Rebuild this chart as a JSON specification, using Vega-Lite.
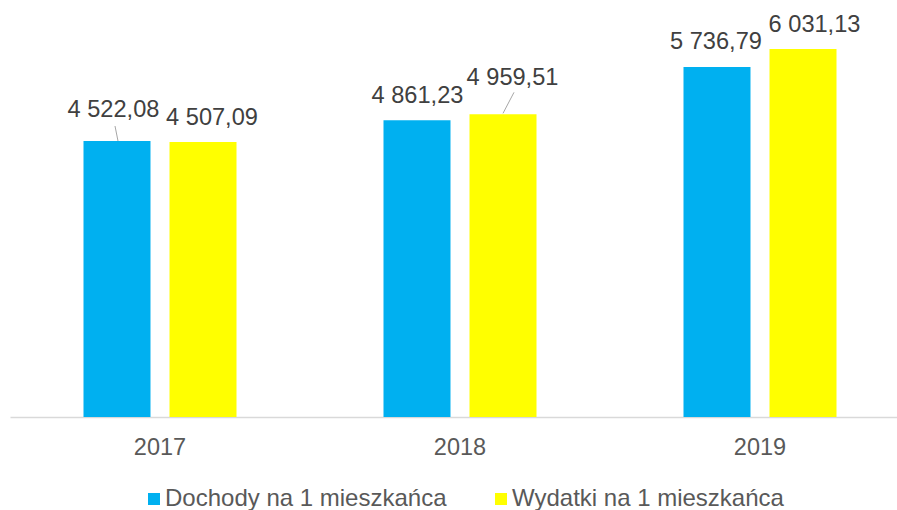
{
  "$schema": "https://vega.github.io/schema/vega-lite/v6.json",
  "width": 887,
  "height": 417,
  "autosize": {"type": "none"},
  "padding": {"left": 10, "top": 0, "right": 0, "bottom": 93},
  "background": "#ffffff",
  "config": {
    "view": {"stroke": null},
    "font": "Liberation Sans"
  },
  "data": {
    "values": [
      {"year": "2017", "series": "Dochody na 1 mieszkańca", "value": 4522.08, "label": "4 522,08"},
      {"year": "2017", "series": "Wydatki na 1 mieszkańca", "value": 4507.09, "label": "4 507,09"},
      {"year": "2018", "series": "Dochody na 1 mieszkańca", "value": 4861.23, "label": "4 861,23"},
      {"year": "2018", "series": "Wydatki na 1 mieszkańca", "value": 4959.51, "label": "4 959,51"},
      {"year": "2019", "series": "Dochody na 1 mieszkańca", "value": 5736.79, "label": "5 736,79"},
      {"year": "2019", "series": "Wydatki na 1 mieszkańca", "value": 6031.13, "label": "6 031,13"}
    ]
  },
  "encoding": {
    "x": {
      "field": "year",
      "type": "nominal",
      "title": null,
      "scale": {"range": [0, 900], "paddingInner": 0, "paddingOuter": 0},
      "axis": {
        "labelAngle": 0,
        "ticks": false,
        "grid": false,
        "domainColor": "#D9D9D9",
        "domainWidth": 1.3,
        "labelFontSize": 23.5,
        "labelColor": "#595959",
        "labelFont": "Liberation Sans",
        "labelBaseline": "alphabetic",
        "labelPadding": 37
      }
    },
    "y": {
      "field": "value",
      "type": "quantitative",
      "scale": {"domain": [0, 6833], "nice": false, "zero": true},
      "axis": null
    }
  },
  "layer": [
    {
      "mark": {"type": "bar"},
      "encoding": {
        "xOffset": {
          "field": "series",
          "type": "nominal",
          "scale": {"paddingInner": 0.221, "paddingOuter": 0.8545}
        },
        "color": {
          "field": "series",
          "type": "nominal",
          "scale": {
            "domain": ["Dochody na 1 mieszkańca", "Wydatki na 1 mieszkańca"],
            "range": ["#00B0F0", "#FFFF00"]
          },
          "legend": {
            "title": null,
            "orient": "none",
            "direction": "horizontal",
            "legendX": 132,
            "legendY": 487,
            "symbolType": "square",
            "symbolSize": 144,
            "symbolStrokeWidth": 0,
            "labelFontSize": 24,
            "labelColor": "#595959",
            "labelFont": "Liberation Sans",
            "labelOffset": -1,
            "columnPadding": 42,
            "padding": 0,
            "labelLimit": 400
          }
        }
      }
    },
    {
      "transform": [{"filter": "datum.value == 4522.08"}],
      "mark": {"type": "text", "align": "center", "baseline": "alphabetic", "dx": -3.5, "dy": -24, "fontSize": 23.6, "font": "Liberation Sans", "color": "#404040"},
      "encoding": {"xOffset": {"field": "series", "type": "nominal"}, "text": {"field": "label"}}
    },
    {
      "transform": [{"filter": "datum.value == 4507.09"}],
      "mark": {"type": "text", "align": "center", "baseline": "alphabetic", "dx": 9, "dy": -16.5, "fontSize": 23.6, "font": "Liberation Sans", "color": "#404040"},
      "encoding": {"xOffset": {"field": "series", "type": "nominal"}, "text": {"field": "label"}}
    },
    {
      "transform": [{"filter": "datum.value == 4861.23"}],
      "mark": {"type": "text", "align": "center", "baseline": "alphabetic", "dx": 0.5, "dy": -17, "fontSize": 23.6, "font": "Liberation Sans", "color": "#404040"},
      "encoding": {"xOffset": {"field": "series", "type": "nominal"}, "text": {"field": "label"}}
    },
    {
      "transform": [{"filter": "datum.value == 4959.51"}],
      "mark": {"type": "text", "align": "center", "baseline": "alphabetic", "dx": 9.5, "dy": -29, "fontSize": 23.6, "font": "Liberation Sans", "color": "#404040"},
      "encoding": {"xOffset": {"field": "series", "type": "nominal"}, "text": {"field": "label"}}
    },
    {
      "transform": [{"filter": "datum.value == 5736.79"}],
      "mark": {"type": "text", "align": "center", "baseline": "alphabetic", "dx": -1, "dy": -18, "fontSize": 23.6, "font": "Liberation Sans", "color": "#404040"},
      "encoding": {"xOffset": {"field": "series", "type": "nominal"}, "text": {"field": "label"}}
    },
    {
      "transform": [{"filter": "datum.value == 6031.13"}],
      "mark": {"type": "text", "align": "center", "baseline": "alphabetic", "dx": 11.5, "dy": -17, "fontSize": 23.6, "font": "Liberation Sans", "color": "#404040"},
      "encoding": {"xOffset": {"field": "series", "type": "nominal"}, "text": {"field": "label"}}
    },
    {
      "transform": [{"filter": "datum.value == 4522.08"}],
      "mark": {"type": "rule", "color": "#A6A6A6", "strokeWidth": 1, "xOffset": -42, "x2Offset": -45, "y2Offset": -15},
      "encoding": {"x2": {"field": "year"}, "y2": {"field": "value"}}
    },
    {
      "transform": [{"filter": "datum.value == 4959.51"}],
      "mark": {"type": "rule", "color": "#A6A6A6", "strokeWidth": 1, "xOffset": 43, "x2Offset": 54, "yOffset": -1, "y2Offset": -22},
      "encoding": {"x2": {"field": "year"}, "y2": {"field": "value"}}
    }
  ]
}
